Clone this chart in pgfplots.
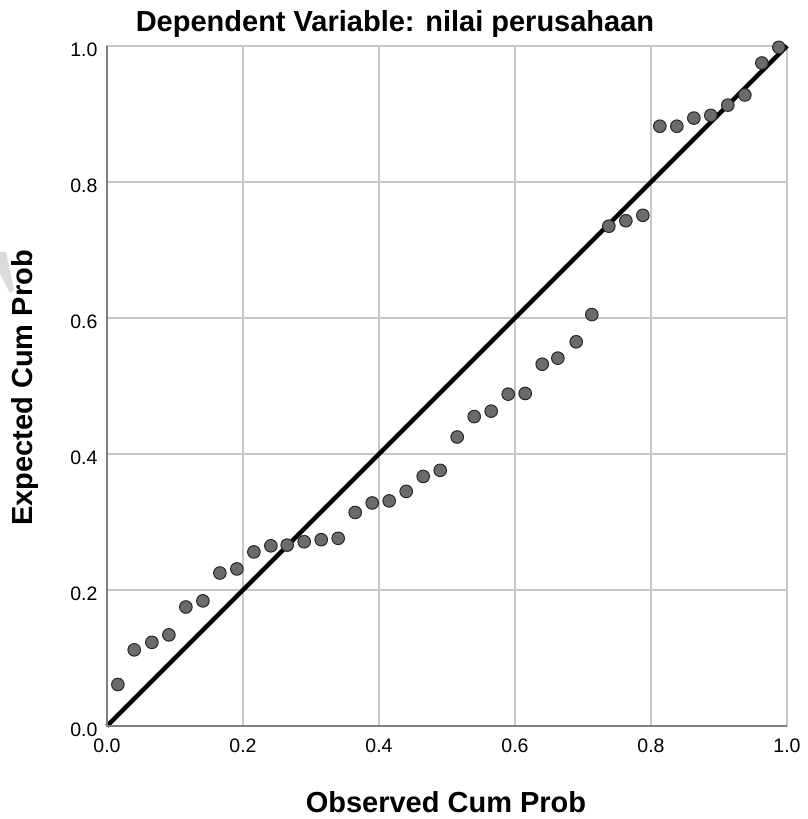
\documentclass[border=0pt]{standalone}
\usepackage{fontspec}
\setmainfont{Liberation Sans}
\usepackage{pgfplots}
\pgfplotsset{compat=1.18}

\begin{document}
\begin{tikzpicture}[x=1pt,y=1pt]
% canvas in px-like units, axis origin at (0,0)
\path[use as bounding box] (-107,-93) rectangle (700,726);
% faint watermark corner at the left edge
\fill[black!14] (-107,474) -- (-101,474) -- (-93,436) -- (-97,433) -- (-107,452) -- cycle;
\begin{axis}[
    at={(0,0)}, anchor=south west,
    width=680pt, height=680pt, scale only axis,
    xmin=0, xmax=1, ymin=0, ymax=1,
    xtick={0,0.2,0.4,0.6,0.8,1.0},
    ytick={0,0.2,0.4,0.6,0.8,1.0},
    major tick length=0pt,
    grid=major,
    grid style={draw=black!22, line width=1.3pt},
    axis line style={draw=black!22, line width=1.3pt},
    /pgf/number format/.cd, fixed, fixed zerofill, precision=1, assume math mode=true,
    /pgfplots/.cd,
    xticklabel style={font=\fontsize{19.5}{22}\selectfont, yshift=-9pt},
    yticklabel style={font=\fontsize{19.5}{22}\selectfont, yshift=-4pt, xshift=-6pt},
    clip=false,
]
\addplot[only marks, mark=*, mark size=6.3pt,
    mark options={fill=black!58, draw=black!85, line width=1pt}] coordinates {
    (0.016,0.061) (0.040,0.112) (0.066,0.123) (0.091,0.134) (0.116,0.175)
    (0.141,0.184) (0.166,0.225) (0.191,0.231) (0.216,0.256) (0.241,0.265)
    (0.265,0.266) (0.290,0.271) (0.315,0.274) (0.340,0.276) (0.365,0.314)
    (0.390,0.328) (0.415,0.331) (0.440,0.345) (0.465,0.367) (0.490,0.376)
    (0.515,0.425) (0.540,0.455) (0.565,0.463) (0.590,0.488) (0.615,0.489)
    (0.640,0.532) (0.663,0.541) (0.690,0.565) (0.713,0.605) (0.738,0.735)
    (0.763,0.743) (0.788,0.751) (0.813,0.882) (0.838,0.882) (0.863,0.894)
    (0.888,0.898) (0.913,0.913) (0.938,0.928) (0.963,0.975) (0.988,0.998)
};
\addplot[black, line width=4.5pt] coordinates {(0,0) (1,1)};
\draw[black!50, line width=1.6pt] (axis cs:0,1) -- (axis cs:0,0) -- (axis cs:1,0);
\end{axis}
\node[font=\bfseries\fontsize{29}{32}\selectfont] at (288,702) {Dependent Variable: nilai perusahaan};
\node[font=\bfseries\fontsize{29}{32}\selectfont, rotate=90] at (-82,338) {Expected Cum Prob};
\node[font=\bfseries\fontsize{29}{32}\selectfont] at (339,-76) {Observed Cum Prob};
\end{tikzpicture}
\end{document}
